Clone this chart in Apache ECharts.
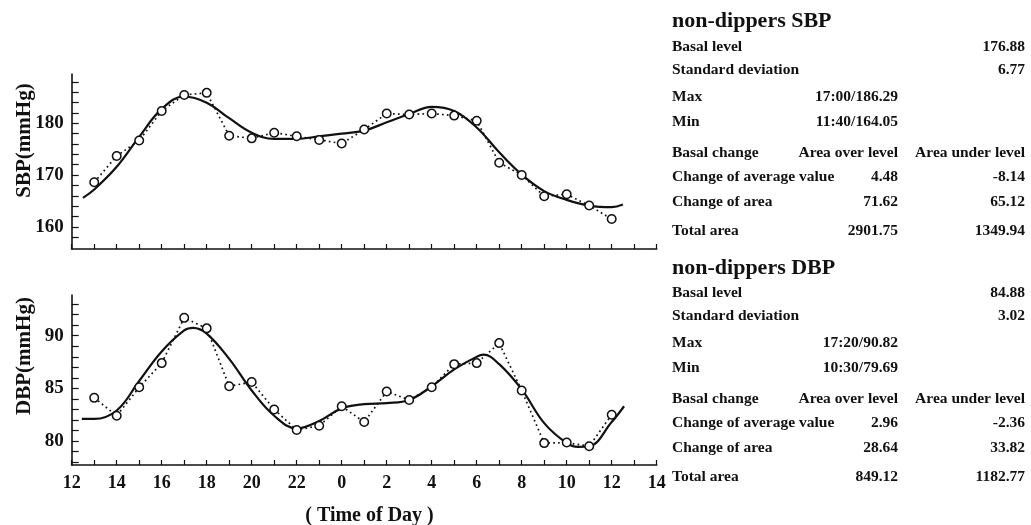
<!DOCTYPE html>
<html>
<head>
<meta charset="utf-8">
<script src="https://cdn.jsdelivr.net/npm/echarts@6/dist/echarts.min.js"></script>
<style>
html,body{margin:0;padding:0;background:#fff;}
#chart{width:1031px;height:525px;}
</style>
</head>
<body>
<div id="chart"></div>
<script>
// ---- data ----
const obsHours = [13,14,15,16,17,18,19,20,21,22,23,24,25,26,27,28,29,30,31,32,33,34,35,36];
const sbpObserved = [168.6,173.7,176.7,182.4,185.5,185.9,177.6,177.1,178.2,177.5,176.8,176.1,178.8,181.9,181.7,181.9,181.5,180.5,172.4,170.0,165.9,166.3,164.1,161.5];
const dbpObserved = [84.1,82.4,85.1,87.4,91.7,90.7,85.2,85.6,83.0,81.05,81.45,83.3,81.8,84.7,83.9,85.1,87.3,87.4,89.3,84.8,79.8,79.85,79.5,82.5];

const sbpFitHours = [12.5,13,14,15,16,17,18,19,20,21,22,23,24,25,26,27,28,29,30,31,32,33,34,35,36,36.5];
const sbpFit = [165.6,167.2,171.6,177.4,182.8,185.2,184.0,181.0,178.2,177.0,177.0,177.5,178.0,178.6,180.2,181.8,183.2,182.4,179.2,174.4,170.1,166.9,165.2,164.1,163.8,164.3];

const dbpFitHours = [12.45,13,14,15,16,17,17.4,18,19,20,21,22,23,24,25,26,27,28,29,30,30.3,31,32,33,34,34.5,35,36,36.55];
const dbpFit = [82.1,82.1,82.9,85.7,88.5,90.5,90.75,90.2,87.8,84.8,82.4,81.2,81.9,83.1,83.5,83.6,83.9,85.2,86.8,88.0,88.2,87.3,84.9,81.7,79.8,79.45,79.5,81.8,83.3];

const xTickLabels = ['12','14','16','18','20','22','0','2','4','6','8','10','12','14'];
const sbpTickValues = [158,160,162,164,166,168,170,172,174,176,178,180,182,184,186,188];
const sbpLabelValues = [160,170,180];
const dbpTickValues = [78,79,80,81,82,83,84,85,86,87,88,89,90,91,92,93];
const dbpLabelValues = [80,85,90];

const sbpTitle = 'non-dippers SBP';
const dbpTitle = 'non-dippers DBP';
const sbpRows = [
  ['Basal level', '', '176.88'],
  ['Standard deviation', '', '6.77'],
  ['Max', '17:00/186.29', ''],
  ['Min', '11:40/164.05', ''],
  ['Basal change', 'Area over level', 'Area under level'],
  ['Change of average value', '4.48', '-8.14'],
  ['Change of area', '71.62', '65.12'],
  ['Total area', '2901.75', '1349.94']
];
const dbpRows = [
  ['Basal level', '', '84.88'],
  ['Standard deviation', '', '3.02'],
  ['Max', '17:20/90.82', ''],
  ['Min', '10:30/79.69', ''],
  ['Basal change', 'Area over level', 'Area under level'],
  ['Change of average value', '2.96', '-2.36'],
  ['Change of area', '28.64', '33.82'],
  ['Total area', '849.12', '1182.77']
];
const yNames = ['SBP(mmHg)', 'DBP(mmHg)'];
const xName = '( Time of Day )';

// ---- build ----
const FONT = '"Liberation Serif", "Times New Roman", serif';
const INK = '#111';
const pairs = (xs, ys) => xs.map((x, i) => [x, ys[i]]);

function xAxisCfg(gi, showLabels) {
  return {
    type: 'value', gridIndex: gi, min: 12, max: 38, interval: 1,
    axisLine: { show: true, onZero: false, lineStyle: { color: INK, width: 1.6 } },
    axisTick: { show: true, inside: true, length: 5, lineStyle: { color: INK, width: 1.2 } },
    axisLabel: {
      show: showLabels, margin: 9, color: INK, fontFamily: FONT, fontWeight: 'bold', fontSize: 18,
      formatter: v => ((v - 12) % 2 === 0 ? xTickLabels[(v - 12) / 2] : '')
    },
    splitLine: { show: false }
  };
}
function yAxisCfg(gi, min, max, ticks, labels) {
  return {
    type: 'value', gridIndex: gi, min: min, max: max,
    axisLine: { show: true, onZero: false, lineStyle: { color: INK, width: 1.6 } },
    axisTick: { show: true, inside: true, length: 7, customValues: ticks, lineStyle: { color: INK, width: 1.2 } },
    axisLabel: { customValues: labels, margin: 8, color: INK, fontFamily: FONT, fontWeight: 'bold', fontSize: 19 },
    splitLine: { show: false }
  };
}
function obsSeries(idx, data) {
  return {
    type: 'line', xAxisIndex: idx, yAxisIndex: idx, data: data, z: 4,
    symbol: 'circle', symbolSize: 8.5, showSymbol: true,
    itemStyle: { color: '#fff', borderColor: INK, borderWidth: 1.5 },
    lineStyle: { color: INK, width: 1.7, type: [1.7, 3.2] },
    silent: true, animation: false
  };
}
function fitSeries(idx, data) {
  return {
    type: 'line', xAxisIndex: idx, yAxisIndex: idx, data: data, z: 3,
    symbol: 'none', smooth: 0.4,
    lineStyle: { color: INK, width: 2.2 },
    silent: true, animation: false
  };
}

const graphics = [];
function txt(x, y, text, size, align, rot) {
  const e = {
    type: 'text', x: x, y: y, rotation: rot || 0, silent: true,
    style: {
      text: text, font: 'bold ' + size + 'px ' + FONT, fill: INK,
      align: align, verticalAlign: 'middle', textAlign: align, textVerticalAlign: 'middle'
    }
  };
  graphics.push(e);
}
const colL = 672, colM = 898, colR = 1025;
const rowY = [46.5, 70, 96.5, 122, 152.5, 177, 201.5, 231];
function panel(title, rows, titleY, off) {
  txt(colL, titleY, title, 22, 'left');
  rows.forEach((r, i) => {
    const y = rowY[i] + off;
    if (r[0]) txt(colL, y, r[0], 15.5, 'left');
    if (r[1]) txt(colM, y, r[1], 15.5, 'right');
    if (r[2]) txt(colR, y, r[2], 15.5, 'right');
  });
}
panel(sbpTitle, sbpRows, 21, 0);
panel(dbpTitle, dbpRows, 268, 246);
txt(25, 140.5, yNames[0], 21, 'center', Math.PI / 2);
txt(25, 356, yNames[1], 21, 'center', Math.PI / 2);
txt(369.5, 516, xName, 20, 'center');

const chart = echarts.init(document.getElementById('chart'), null, { renderer: 'canvas' });
chart.setOption({
  backgroundColor: '#fff',
  animation: false,
  grid: [
    { left: 71.7, right: 374.3, top: 74, height: 175 },
    { left: 71.7, right: 374.3, top: 295, height: 170 }
  ],
  xAxis: [xAxisCfg(0, false), xAxisCfg(1, true)],
  yAxis: [
    yAxisCfg(0, 155.7, 189.55, sbpTickValues, sbpLabelValues),
    yAxisCfg(1, 77.72, 93.87, dbpTickValues, dbpLabelValues)
  ],
  series: [
    fitSeries(0, pairs(sbpFitHours, sbpFit)),
    obsSeries(0, pairs(obsHours, sbpObserved)),
    fitSeries(1, pairs(dbpFitHours, dbpFit)),
    obsSeries(1, pairs(obsHours, dbpObserved))
  ],
  graphic: graphics
});
</script>
</body>
</html>
